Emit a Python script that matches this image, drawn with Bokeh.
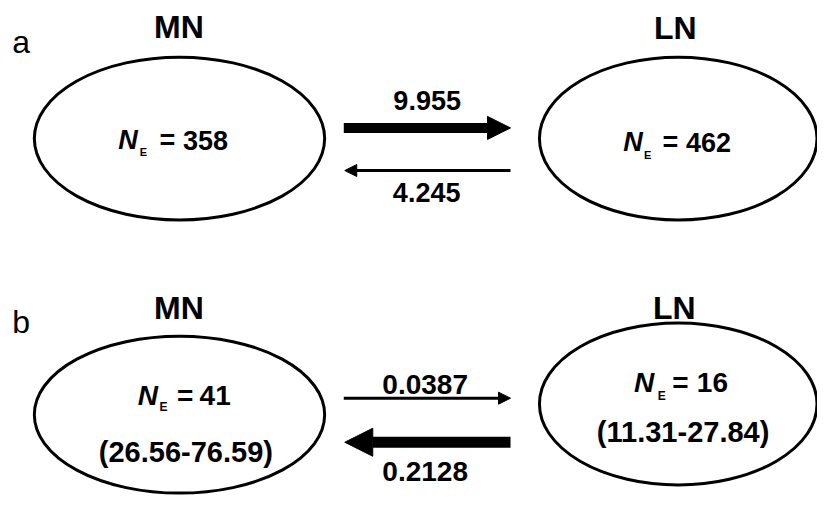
from bokeh.plotting import figure
from bokeh.models import Range1d, Arrow, NormalHead
from bokeh.core.properties import value
from bokeh.embed import file_html
from bokeh.resources import INLINE

# ---- data ----
panels = ["a", "b"]
populations = ["MN", "LN"]
ne_a = [358, 462]
ne_b = [41, 16]
ci_b = ["(26.56-76.59)", "(11.31-27.84)"]
mig_a = [9.955, 4.245]     # [MN -> LN, LN -> MN]
mig_b = [0.0387, 0.2128]   # [MN -> LN, LN -> MN]

FONT = value("Liberation Sans")
BASE_SHIFT = 0.32  # empirical correction of the rendered baseline (em)

p = figure(width=817, height=496, x_range=Range1d(0, 833), y_range=Range1d(512, 0),
           output_backend="svg", toolbar_location=None, min_border=0)
p.axis.visible = False
p.grid.visible = False
p.outline_line_color = None
p.background_fill_color = "white"


def txt(x, y, s, size, style="bold", align="center"):
    p.text(x=[x], y=[y - BASE_SHIFT * size], text=[s], text_font=FONT,
           text_font_size=value(f"{size}px"),
           text_font_style=style, text_align=align, text_baseline="alphabetic",
           text_color="black")


def ne_label(xn, yb, xe, ye, xeq, xnum, num, size, esize):
    txt(xn, yb, "N", size, "bold italic", "left")
    txt(xe, ye, "E", esize, "bold", "left")
    txt(xeq, yb, "=", size, "bold", "left")
    txt(xnum, yb, str(num), size, "bold", "left")


def arrow(x0, x1, y, lw, head):
    p.add_layout(Arrow(x_start=x0, y_start=y, x_end=x1, y_end=y, line_width=lw,
                       line_color="black",
                       end=NormalHead(size=head, fill_color="black", line_color="black",
                                      line_width=1)))


# ---- panel a ----
txt(12, 53, panels[0], 32, "normal", "left")
txt(182, 38, populations[0], 32)
txt(688, 39, populations[1], 32)
p.ellipse(x=[182.5, 691], y=[142.5, 142.5], width=[296, 283], height=[168, 168],
          fill_color=None, line_color="black", line_width=3)
ne_label(120, 153, 142, 160, 162, 186, ne_a[0], 27, 11)
ne_label(635, 155, 656, 163, 675, 699, ne_a[1], 27, 11)
big_a = 0 if mig_a[0] >= mig_a[1] else 1
arrow(350, 520, 131.5, 10 if big_a == 0 else 3, 23 if big_a == 0 else 12)
arrow(520, 351, 175.5, 10 if big_a == 1 else 3, 23 if big_a == 1 else 12)
txt(435, 112, f"{mig_a[0]}", 27)
txt(434.5, 207, f"{mig_a[1]}", 27)

# ---- panel b ----
txt(12, 342, panels[1], 32, "normal", "left")
txt(182, 328, populations[0], 32)
txt(687, 328, populations[1], 32)
p.ellipse(x=[182.5, 691], y=[427.5, 416.5], width=[296, 283], height=[162, 167],
          fill_color=None, line_color="black", line_width=3)
ne_label(140, 417, 162, 423, 180, 203, ne_b[0], 28, 12)
ne_label(646, 403, 670, 412, 685, 710, ne_b[1], 28, 12)
txt(189, 475, ci_b[0], 29)
txt(696, 455, ci_b[1], 29)
big_b = 0 if mig_b[0] >= mig_b[1] else 1
arrow(350, 520, 410.5, 11 if big_b == 0 else 3, 28 if big_b == 0 else 12)
arrow(520, 351, 456, 11 if big_b == 1 else 3, 28 if big_b == 1 else 12)
txt(433, 405, f"{mig_b[0]}", 28)
txt(433, 495, f"{mig_b[1]}", 28)

open("out.html", "w").write(file_html(p, INLINE))
